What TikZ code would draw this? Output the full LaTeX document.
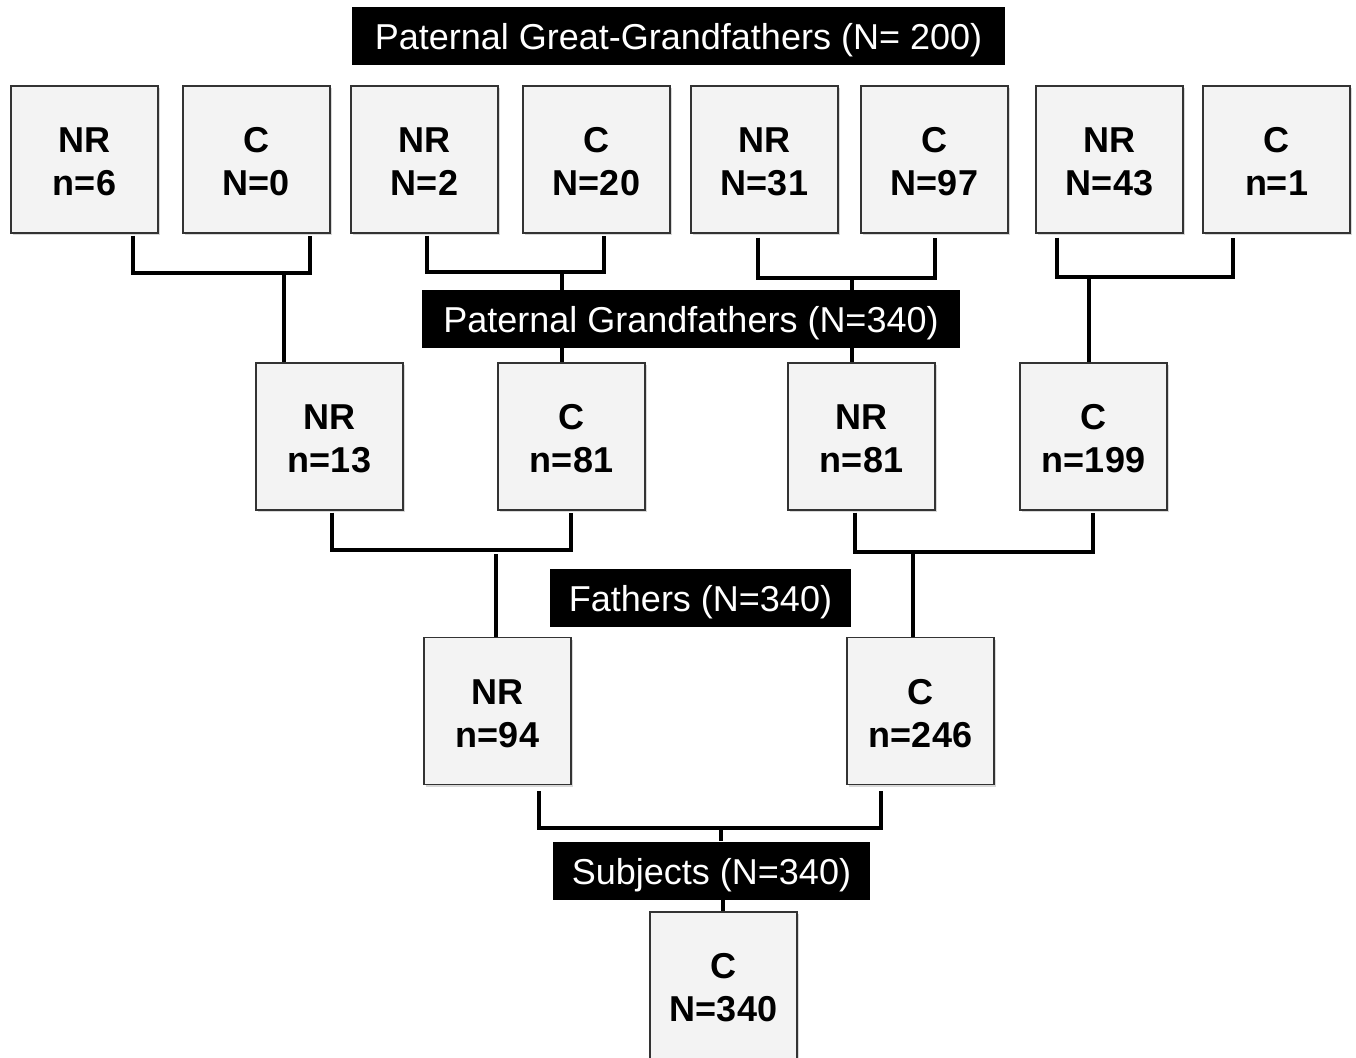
\documentclass[tikz,border=0pt]{standalone}
\usepackage{fontspec}
\setmainfont{Liberation Sans}
\usetikzlibrary{shadows}
\definecolor{boxfill}{HTML}{F3F3F3}
\definecolor{boxline}{HTML}{333333}
\begin{document}
\begin{tikzpicture}[x=1pt,y=-1pt,
  gbox/.style={draw=boxline,line width=1.2pt,fill=boxfill,minimum width=147pt,minimum height=147pt,
    inner sep=0pt,align=center,text height=72.5pt,text depth=0pt,font=\fontsize{36}{43}\selectfont\bfseries,
    drop shadow={shadow xshift=2pt,shadow yshift=-2pt,opacity=0.3}},
  lbl/.style={fill=black,text=white,inner sep=0pt,minimum height=58pt,text depth=0pt,text height=27pt,
    font=\fontsize{36}{42}\selectfont},
  conn/.style={line width=3.5pt,line join=miter}]
\useasboundingbox (0,0) rectangle (1356,1057);
\fill[white] (0,0) rectangle (1356,1057);
% labels
\node[lbl,minimum width=653pt] (L1) at (678.5,36) {Paternal Great-Grandfathers (N= 200)};
\node[lbl,minimum width=538pt] (L2) at (691,319) {Paternal Grandfathers (N=340)};
\node[lbl,minimum width=301pt] (L3) at (700.5,597.5) {Fathers (N=340)};
\node[lbl,minimum width=317pt] (L4) at (711.5,870.5) {Subjects (N=340)};
% row 1
\node[gbox] (b1) at (84.5,159.5) {NR\\n=6};
\node[gbox] (b2) at (256.5,159.5) {C\\N=0};
\node[gbox] (b3) at (424.5,159.5) {NR\\N=2};
\node[gbox] (b4) at (596.5,159.5) {C\\N=20};
\node[gbox] (b5) at (764.5,159.5) {NR\\N=31};
\node[gbox] (b6) at (934.5,159.5) {C\\N=97};
\node[gbox] (b7) at (1109.5,159.5) {NR\\N=43};
\node[gbox] (b8) at (1276.5,159.5) {C\\n=1};
% row 2
\node[gbox] (c1) at (329.5,436.5) {NR\\n=13};
\node[gbox] (c2) at (571.5,436.5) {C\\n=81};
\node[gbox] (c3) at (861.5,436.5) {NR\\n=81};
\node[gbox] (c4) at (1093.5,436.5) {C\\n=199};
% row 3
\node[gbox] (d1) at (497.5,711) {NR\\n=94};
\node[gbox] (d2) at (920.5,711) {C\\n=246};
% row 4
\node[gbox] (e1) at (723.5,985.5) {C\\N=340};
% junctions
\coordinate (j1) at (284,273);
\coordinate (j2) at (562,272);
\coordinate (j3) at (852,278);
\coordinate (j4) at (1089,277);
\coordinate (k1) at (496,550);
\coordinate (k2) at (913,552);
\coordinate (m1) at (721,828);
% row 1 brackets
\draw[conn] ([xshift=48.5pt,yshift=-2pt]b1.south) |- (j1) -| ([xshift=53.5pt,yshift=-2pt]b2.south);
\draw[conn] ([xshift=2.5pt,yshift=-2pt]b3.south) |- (j2) -| ([xshift=7.5pt,yshift=-2pt]b4.south);
\draw[conn] ([xshift=-6.5pt,yshift=-4pt]b5.south) |- (j3) -| ([xshift=0.5pt,yshift=-4pt]b6.south);
\draw[conn] ([xshift=-52.5pt,yshift=-4pt]b7.south) |- (j4) -| ([xshift=-43.5pt,yshift=-4pt]b8.south);
\draw[conn] ([yshift=-2pt]j1) -- (j1 |- c1.north);
\draw[conn] ([yshift=-2pt]j2) -- (j2 |- L2.north);
\draw[conn] (j2 |- L2.south) -- (j2 |- c2.north);
\draw[conn] ([yshift=-2pt]j3) -- (j3 |- L2.north);
\draw[conn] (j3 |- L2.south) -- (j3 |- c3.north);
\draw[conn] ([yshift=-2pt]j4) -- (j4 |- c4.north);
% row 2 brackets
\draw[conn] ([xshift=2.5pt,yshift=-2pt]c1.south) |- (k1) -| ([xshift=-0.5pt,yshift=-2pt]c2.south);
\draw[conn] ([xshift=-6.5pt,yshift=-2pt]c3.south) |- (k2) -| ([xshift=-0.5pt,yshift=-2pt]c4.south);
\draw[conn] ([yshift=-4pt]k1) -- (k1 |- d1.north);
\draw[conn] ([yshift=-2pt]k2) -- (k2 |- d2.north);
% row 3 bracket
\draw[conn] ([xshift=41.5pt,yshift=-6pt]d1.south) |- (m1) -| ([xshift=-39.5pt,yshift=-6pt]d2.south);
\draw[conn] ([yshift=-1pt]m1) -- (m1 |- L4.north);
\draw[conn] ([xshift=2pt]m1 |- L4.south) -- ([xshift=2pt]m1 |- e1.north);
\end{tikzpicture}
\end{document}
